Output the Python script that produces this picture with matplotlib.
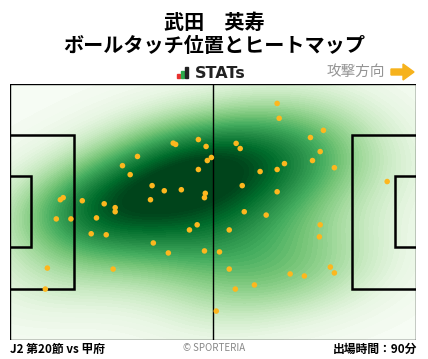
import numpy as np
import matplotlib
matplotlib.use("Agg")
import matplotlib.pyplot as plt
from matplotlib.patches import Rectangle, Polygon

plt.rcParams['font.family'] = ['Noto Sans CJK JP', 'DejaVu Sans']

# ball touch positions, pitch coords 0-100 (x: own goal -> attack, y: bottom -> top)
touch_x = [40.2, 40.8, 46.4, 48.3, 49.6, 48.6, 31.4, 27.7, 29.6, 46.4,
           35.0, 38.0, 42.2, 48.1, 47.9, 34.6, 12.4, 13.1, 17.8, 23.2,
           25.9, 25.9, 65.8, 66.3, 77.2, 74.0, 55.7, 56.7, 76.4, 74.5,
           67.6, 65.8, 61.6, 79.9, 57.2, 65.8, 92.9, 57.7, 63.1, 11.4,
           15.0, 21.3, 20.0, 23.7, 35.3, 39.0, 44.2, 46.1, 47.9, 9.2,
           25.4, 8.7, 54.0, 51.6, 76.4, 76.2, 54.0, 55.5, 60.2, 69.0,
           72.5, 78.9, 79.9, 50.8]
touch_y = [76.9, 76.4, 78.3, 75.6, 71.3, 70.1, 71.7, 68.1, 64.6, 66.6,
           60.3, 58.3, 58.7, 57.3, 55.6, 54.8, 54.8, 55.6, 54.4, 53.2,
           51.7, 50.1, 92.4, 86.6, 81.9, 79.1, 76.8, 74.8, 73.6, 70.1,
           68.9, 66.6, 65.8, 67.3, 60.3, 57.9, 61.9, 50.1, 48.8, 47.3,
           47.3, 47.7, 41.5, 41.1, 37.9, 34.0, 43.0, 45.0, 34.8, 28.1,
           27.7, 19.9, 43.0, 34.4, 45.0, 40.3, 27.7, 19.9, 21.5, 25.8,
           25.0, 28.5, 26.2, 11.3]

player = "武田　英寿"
subtitle = "ボールタッチ位置とヒートマップ"
match_label = "J2 第20節 vs 甲府"
minutes_label = "出場時間：90分"

W, H = 428, 359
fig = plt.figure(figsize=(W / 100, H / 100), dpi=100)

# pitch axes
ax = fig.add_axes([10 / W, 19 / H, 406 / W, 256 / H])
ax.set_xlim(0, 100)
ax.set_ylim(0, 100)
ax.axis("off")

# heatmap: gaussian kde with full covariance (scott-like factor)
tx = np.array(touch_x)
ty = np.array(touch_y)
gx = np.linspace(0, 100, 240)
gy = np.linspace(0, 100, 160)
X, Y = np.meshgrid(gx, gy)
cov = np.cov(np.vstack([tx, ty])) * 0.68 ** 2
inv = np.linalg.inv(cov)
Z = np.zeros_like(X)
for px, py in zip(tx, ty):
    dx, dy = X - px, Y - py
    Z += np.exp(-0.5 * (inv[0, 0] * dx * dx + 2 * inv[0, 1] * dx * dy + inv[1, 1] * dy * dy))
Z /= Z.max()
ax.contourf(X, Y, Z, levels=np.linspace(0, 1, 60), cmap="Greens",
            vmin=0, vmax=0.92, zorder=0, extend="both")

# pitch lines
lw_thin, lw = 1.0, 1.8
ax.plot([0, 100, 100, 0, 0], [0, 0, 100, 100, 0], color="black", lw=lw_thin, zorder=2)
ax.plot([50, 50], [0, 100], color="black", lw=lw_thin, zorder=2)
pb_x, pb_y0, pb_y1 = 15.8, 20.0, 80.0
gb_x, gb_y0, gb_y1 = 5.2, 36.5, 63.9
for side in (0, 1):
    f = (lambda v: v) if side == 0 else (lambda v: 100 - v)
    ax.plot([f(0), f(pb_x), f(pb_x), f(0)], [pb_y0, pb_y0, pb_y1, pb_y1],
            color="black", lw=lw, zorder=2, solid_joinstyle="miter")
    ax.plot([f(0), f(gb_x), f(gb_x), f(0)], [gb_y0, gb_y0, gb_y1, gb_y1],
            color="black", lw=lw, zorder=2, solid_joinstyle="miter")

ax.scatter(tx, ty, s=16, color="#FDB71E", edgecolors="none", zorder=3)

# overlay for titles / logo / footer in pixel coords
ov = fig.add_axes([0, 0, 1, 1], zorder=5)
ov.set_xlim(0, W)
ov.set_ylim(H, 0)
ov.axis("off")
ov.patch.set_alpha(0)

ov.text(214, 22, player, ha="center", va="center", fontsize=14.5, fontweight="bold")
ov.text(214, 46, subtitle, ha="center", va="center", fontsize=14.5, fontweight="bold")

# STATs logo
ov.add_patch(Rectangle((177, 74), 3, 4, color="#E8312F"))
ov.add_patch(Rectangle((181, 71), 3, 7, color="#2BA84A"))
ov.add_patch(Rectangle((185, 67), 3, 11, color="#222222"))
ov.text(195, 73, "STATs", ha="left", va="center", fontsize=11.5, fontweight="bold",
        family="DejaVu Sans", color="#222222")

# attack direction
ov.text(385, 72, "攻撃方向", ha="right", va="center", fontsize=10.5, color="#949494")
ov.add_patch(Polygon([(391, 69), (403, 69), (403, 64), (414, 72), (403, 80), (403, 75), (391, 75)],
                     closed=True, color="#F6B21C"))

# footer
ov.text(10, 349, match_label, ha="left", va="center", fontsize=8.5, fontweight="bold")
ov.text(214, 348, "© SPORTERIA", ha="center", va="center", fontsize=7, color="#888888")
ov.text(417, 349, minutes_label, ha="right", va="center", fontsize=8.5, fontweight="bold")

fig.savefig("out.png", dpi=100)
